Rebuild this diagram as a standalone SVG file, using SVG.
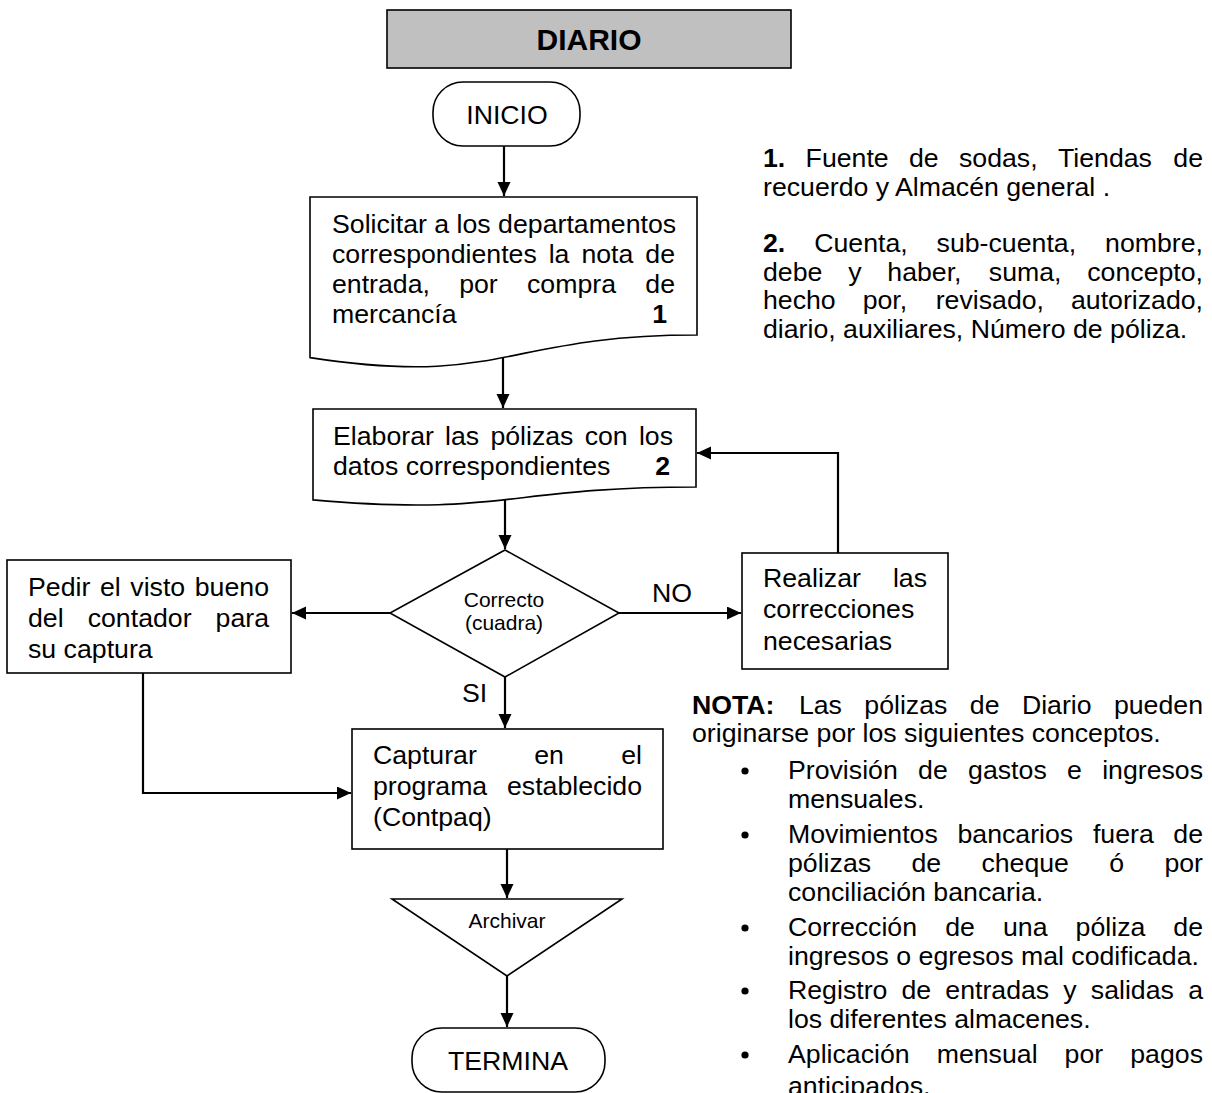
<svg xmlns="http://www.w3.org/2000/svg" width="1212" height="1093" viewBox="0 0 1212 1093">
<style>
text{font-family:"Liberation Sans",Arial,sans-serif;font-size:26.7px;fill:#000}
.b{font-weight:bold}
.sm{font-size:21px}
.shape{fill:#fff;stroke:#000;stroke-width:1.6}
.conn{fill:none;stroke:#000;stroke-width:2.2}
.e{text-anchor:end}
.m{text-anchor:middle}
</style>
<defs>
<marker id="arr" markerUnits="userSpaceOnUse" markerWidth="15" markerHeight="14" refX="14" refY="6.5" orient="auto">
<path d="M0,0 L14,6.5 L0,13 z" fill="#000"/>
</marker>
</defs>

<g id="header">
<rect x="387" y="10" width="404" height="58" fill="#c0c0c0" stroke="#000" stroke-width="1.6"/>
<text class="b m" x="589" y="50" style="font-size:30px">DIARIO</text>
</g>

<g id="inicio">
<rect class="shape" x="433" y="82" width="147" height="64" rx="30" ry="30"/>
<text class="m" x="507" y="123.5">INICIO</text>
</g>

<g id="solicitar">
<path class="shape" d="M310,197 H697 V335 C503.5,335 503.5,387.5 310,357.6 Z"/>
<text x="332" y="233">Solicitar a los departamentos</text>
<text y="263"><tspan x="332">correspondientes</tspan><tspan x="548.7">la</tspan><tspan x="581.4">nota</tspan><tspan x="675" class="e">de</tspan></text>
<text y="293"><tspan x="332">entrada,</tspan><tspan x="459.2">por</tspan><tspan x="527">compra</tspan><tspan x="675" class="e">de</tspan></text>
<text y="323"><tspan x="332">mercancía</tspan><tspan x="667" class="b e">1</tspan></text>
</g>

<g id="elaborar">
<path class="shape" d="M313,409 H696 V487 C504.5,487 504.5,516.8 313,499.9 Z"/>
<text y="445"><tspan x="333">Elaborar</tspan><tspan x="445.1">las</tspan><tspan x="490.4">pólizas</tspan><tspan x="584.7">con</tspan><tspan x="673" class="e">los</tspan></text>
<text y="475"><tspan x="333">datos correspondientes</tspan><tspan x="670" class="b e">2</tspan></text>
</g>

<g id="decision">
<path class="shape" d="M505,550 L619,613 L505,677 L390,613 Z"/>
<text class="sm m" x="504" y="607">Correcto</text>
<text class="sm m" x="504" y="630">(cuadra)</text>
</g>

<g id="pedir">
<rect class="shape" x="7" y="560" width="284" height="113"/>
<text y="596"><tspan x="28">Pedir</tspan><tspan x="99.9">el</tspan><tspan x="130.3">visto</tspan><tspan x="269" class="e">bueno</tspan></text>
<text y="627"><tspan x="28">del</tspan><tspan x="87.7">contador</tspan><tspan x="269" class="e">para</tspan></text>
<text x="28" y="658">su captura</text>
</g>

<g id="realizar">
<rect class="shape" x="742" y="553" width="206" height="116"/>
<text y="587"><tspan x="763">Realizar</tspan><tspan x="927" class="e">las</tspan></text>
<text x="763" y="618">correcciones</text>
<text x="763" y="650">necesarias</text>
</g>

<g id="capturar">
<rect class="shape" x="352" y="729" width="311" height="120"/>
<text y="764"><tspan x="373">Capturar</tspan><tspan x="534.2">en</tspan><tspan x="642" class="e">el</tspan></text>
<text y="795"><tspan x="373">programa</tspan><tspan x="642" class="e">establecido</tspan></text>
<text x="373" y="826">(Contpaq)</text>
</g>

<g id="archivar">
<path class="shape" d="M392,899 L622,899 L507,976 Z"/>
<text class="sm m" x="507" y="928">Archivar</text>
</g>

<g id="termina">
<rect class="shape" x="412" y="1028" width="193" height="64" rx="30" ry="30"/>
<text class="m" x="508" y="1070">TERMINA</text>
</g>

<g id="connectors">
<path class="conn" d="M504,146 V196" marker-end="url(#arr)"/>
<path class="conn" d="M503,358 V408" marker-end="url(#arr)"/>
<path class="conn" d="M505,500 V549" marker-end="url(#arr)"/>
<path class="conn" d="M390,613 H292" marker-end="url(#arr)"/>
<path class="conn" d="M619,613 H741" marker-end="url(#arr)"/>
<path class="conn" d="M838,553 V453 H697" marker-end="url(#arr)"/>
<path class="conn" d="M505,677 V728" marker-end="url(#arr)"/>
<path class="conn" d="M143,673 V793 H351" marker-end="url(#arr)"/>
<path class="conn" d="M507,849 V898" marker-end="url(#arr)"/>
<path class="conn" d="M507,976 V1027" marker-end="url(#arr)"/>
<text x="652" y="602">NO</text>
<text x="462" y="702">SI</text>
</g>

<g id="notes">
<text y="167"><tspan x="763" class="b">1.</tspan><tspan x="805.6">Fuente</tspan><tspan x="909">de</tspan><tspan x="959">sodas,</tspan><tspan x="1058">Tiendas</tspan><tspan x="1203" class="e">de</tspan></text>
<text x="763" y="195.5">recuerdo y Almacén general .</text>
<text y="252"><tspan x="763" class="b">2.</tspan><tspan x="814.2">Cuenta,</tspan><tspan x="936.6">sub-cuenta,</tspan><tspan x="1203" class="e">nombre,</tspan></text>
<text y="280.5"><tspan x="763">debe</tspan><tspan x="848.2">y</tspan><tspan x="887.3">haber,</tspan><tspan x="988.8">suma,</tspan><tspan x="1203" class="e">concepto,</tspan></text>
<text y="309"><tspan x="763">hecho</tspan><tspan x="862.7">por,</tspan><tspan x="935.7">revisado,</tspan><tspan x="1203" class="e">autorizado,</tspan></text>
<text x="763" y="337.5">diario, auxiliares, Número de póliza.</text>
</g>

<g id="nota">
<text y="714"><tspan x="692" class="b">NOTA:</tspan><tspan x="798.9">Las</tspan><tspan x="864.3">pólizas</tspan><tspan x="969.8">de</tspan><tspan x="1021.9">Diario</tspan><tspan x="1203" class="e">pueden</tspan></text>
<text x="692" y="742">originarse por los siguientes conceptos.</text>
<circle cx="745" cy="771" r="3.6"/>
<text y="779"><tspan x="788">Provisión</tspan><tspan x="918.1">de</tspan><tspan x="968.1">gastos</tspan><tspan x="1067.1">e</tspan><tspan x="1203" class="e">ingresos</tspan></text>
<text x="788" y="808">mensuales.</text>
<circle cx="745" cy="835" r="3.6"/>
<text y="843"><tspan x="788">Movimientos</tspan><tspan x="957.5">bancarios</tspan><tspan x="1092.9">fuera</tspan><tspan x="1203" class="e">de</tspan></text>
<text y="872"><tspan x="788">pólizas</tspan><tspan x="911.4">de</tspan><tspan x="981.4">cheque</tspan><tspan x="1109.3">ó</tspan><tspan x="1203" class="e">por</tspan></text>
<text x="788" y="901">conciliación bancaria.</text>
<circle cx="745" cy="928" r="3.6"/>
<text y="936"><tspan x="788">Corrección</tspan><tspan x="945.2">de</tspan><tspan x="1003">una</tspan><tspan x="1075.6">póliza</tspan><tspan x="1203" class="e">de</tspan></text>
<text x="788" y="965">ingresos o egresos mal codificada.</text>
<circle cx="745" cy="991" r="3.6"/>
<text y="999"><tspan x="788">Registro</tspan><tspan x="901.5">de</tspan><tspan x="945.3">entradas</tspan><tspan x="1063.3">y</tspan><tspan x="1090.8">salidas</tspan><tspan x="1203" class="e">a</tspan></text>
<text x="788" y="1028">los diferentes almacenes.</text>
<circle cx="745" cy="1055" r="3.6"/>
<text y="1063"><tspan x="788">Aplicación</tspan><tspan x="936.7">mensual</tspan><tspan x="1064.6">por</tspan><tspan x="1203" class="e">pagos</tspan></text>
<text x="788" y="1095">anticipados.</text>
</g>
</svg>
